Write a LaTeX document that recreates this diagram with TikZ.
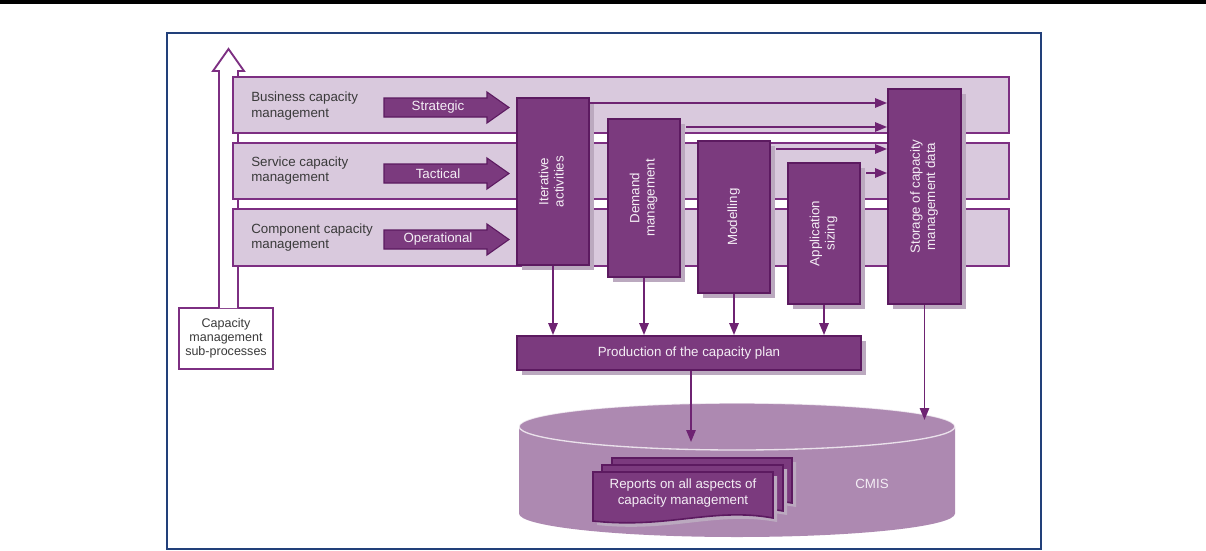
\documentclass[tikz,border=0pt]{standalone}
\usepackage{fontspec}
\setmainfont{Liberation Sans}
\usepackage{graphicx}
\usetikzlibrary{shadows,calc,arrows.meta}
\definecolor{pdark}{HTML}{7B3A7E}
\definecolor{pborder}{HTML}{5C1A60}
\definecolor{pline}{HTML}{6E2372}
\definecolor{bandfill}{HTML}{D9C9DD}
\definecolor{bandline}{HTML}{7D2F82}
\definecolor{shad}{HTML}{BBA9BF}
\definecolor{cyl}{HTML}{AD89B1}
\definecolor{framec}{HTML}{22407A}
\definecolor{txt}{HTML}{3A3A3A}
\definecolor{offwhite}{HTML}{F4EEF5}
\newcommand\fatarrow[3]{%
  \draw[fat] (384,{#1-9.5}) -- (487,{#1-9.5}) -- (487,{#1-15.5}) -- (509,#1) -- (487,{#1+15.5}) -- (487,{#1+9.5}) -- (384,{#1+9.5}) -- cycle;
  \node[text=offwhite] (#2) at (438,#1) {#3};}
\newcommand\vlabel[1]{\rotatebox{90}{\begin{tabular}{@{}c@{}}#1\end{tabular}}}
\newcommand\docpath[4]{%
  (#1,#2) -- (#3,#2) -- (#3,{#4-3}) .. controls ({#3-60},{#4-14}) and ({#1+75},{#4+8}) .. (#1,#4) -- cycle}
\begin{document}
\begin{tikzpicture}[x=0.75pt,y=-0.75pt,
  font=\fontsize{10}{11.5}\selectfont,
  band/.style={draw=bandline, line width=1.4pt, fill=bandfill, inner sep=0},
  pbox/.style={draw=pborder, line width=1.4pt, fill=pdark, text=offwhite, inner sep=0,
    drop shadow={shadow xshift=3.75pt, shadow yshift=-3.75pt, fill=shad, opacity=1}},
  docstyle/.style={draw=pborder, line width=1.2pt, fill=pdark,
    drop shadow={shadow xshift=3pt, shadow yshift=-3pt, fill=shad, opacity=1}},
  conn/.style={draw=pline, line width=1.4pt, -{Triangle[length=9pt,width=7pt]}},
  fat/.style={fill=pdark, draw=pborder, line width=0.8pt},
]
\useasboundingbox (0,0) rectangle (1206,550);
% top black bar and frame
\fill[black] (0,0) rectangle (1206,3.5);
\draw[framec, line width=1.5pt] (167,33) rectangle (1041,549);

% sub-processes box and hollow up arrow
\node[draw=bandline, line width=1.4pt, fill=white, minimum width=70.5pt, minimum height=45.75pt,
  align=center, text=txt, font=\fontsize{9.4}{10.6}\selectfont, inner sep=0] (sub) at (226,338.5)
  {Capacity\\management\\sub-processes};
\draw[bandline, line width=1.4pt, fill=white, line join=miter]
  (219,308) -- (219,71) -- (213,71) -- (228.5,49) -- (244,71) -- (238,71) -- (238,308);

% bands
\node[band, minimum width=582pt, minimum height=42pt] (bus) at (621,105) {};
\node[band, minimum width=582pt, minimum height=42pt] (ser) at (621,171) {};
\node[band, minimum width=582pt, minimum height=42.75pt] (com) at (621,237.5) {};
\node[anchor=west, align=left, text=txt, inner sep=0] (busl) at (251,106) {Business capacity\\management};
\node[anchor=west, align=left, text=txt, inner sep=0] (serl) at (251,170.5) {Service capacity\\management};
\node[anchor=west, align=left, text=txt, inner sep=0] (coml) at (251,237.5) {Component capacity\\management};

% fat arrows
\fatarrow{107.5}{strat}{Strategic}
\fatarrow{173.5}{tact}{Tactical}
\fatarrow{239.5}{oper}{Operational}

% vertical boxes
\node[pbox, minimum width=54pt, minimum height=125.25pt] (iter) at (553,181.5) {\vlabel{Iterative\\activities}};
\node[pbox, minimum width=54pt, minimum height=118.5pt] (dem) at (644,198) {\vlabel{Demand\\management}};
\node[pbox, minimum width=54pt, minimum height=114pt] (mod) at (734,217) {\vlabel{Modelling}};
\node[pbox, minimum width=54pt, minimum height=105.75pt] (app) at (824,233.5) {\vlabel{Application\\sizing}};
\node[pbox, minimum width=54.75pt, minimum height=161.25pt] (stor) at (924.5,196.5) {\vlabel{Storage of capacity\\management data}};

% connectors to storage
\draw[conn] (iter.east |- 0,103) -- (stor.west |- 0,103);
\draw[conn] ([xshift=4pt]dem.east |- 0,127) -- (stor.west |- 0,127);
\draw[conn] ([xshift=4pt]mod.east |- 0,149) -- (stor.west |- 0,149);
\draw[conn] ([xshift=4pt]app.east |- 0,173) -- (stor.west |- 0,173);

% production box
\node[pbox, minimum width=258pt, minimum height=25.5pt] (prod) at (689,353) {Production of the capacity plan};
\draw[conn] (iter.south) -- (iter.south |- prod.north);
\draw[conn] (dem.south) -- (dem.south |- prod.north);
\draw[conn] (mod.south) -- (mod.south |- prod.north);
\draw[conn] (app.south) -- (app.south |- prod.north);

% CMIS cylinder
\fill[cyl] (519,426.5) -- (519,513.5) arc[start angle=180, end angle=0, x radius=218, y radius=23.5]
  -- (955,426.5) arc[start angle=0, end angle=-180, x radius=218, y radius=23.5] -- cycle;
\draw[white, opacity=0.75, line width=1pt] (737,426.5) ellipse[x radius=218, y radius=23.5];
\coordinate (cylstor) at (925,420);
\coordinate (cylplan) at (691,442);
\node[text=offwhite] (cmis) at (872,484) {CMIS};

% reports stack
\path[docstyle] \docpath{612}{458}{792}{506};
\path[docstyle] \docpath{602}{465}{783}{514};
\path[docstyle] \docpath{593}{472}{773}{521};
\node[text=offwhite, align=center, font=\fontsize{10}{12}\selectfont] (rep) at (683,493)
  {Reports on all aspects of\\capacity management};

% arrows into CMIS
\draw[conn] (stor.south) -- (stor.south |- cylstor);
\draw[conn] (prod.south -| cylplan) -- (cylplan);
\end{tikzpicture}
\end{document}
